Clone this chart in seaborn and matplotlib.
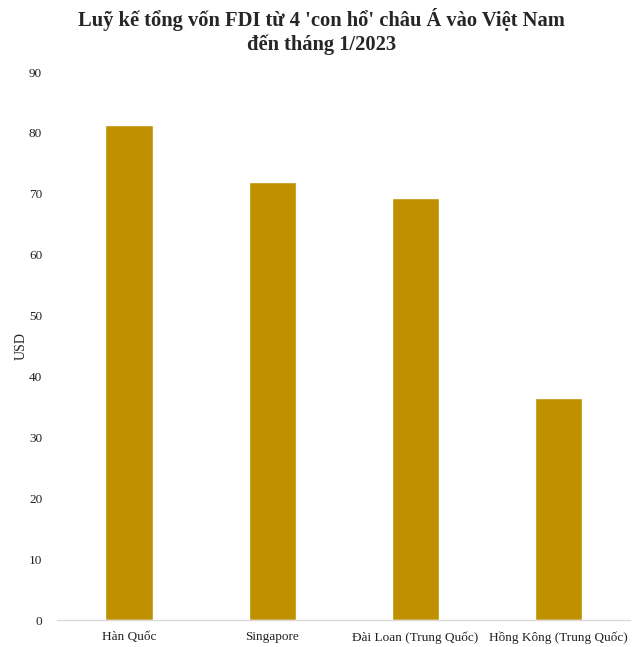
import matplotlib
matplotlib.use("Agg")
import matplotlib.pyplot as plt
import seaborn as sns
import pandas as pd

categories = ["Hàn Quốc", "Singapore", "Đài Loan (Trung Quốc)", "Hồng Kông (Trung Quốc)"]
values = [81.3, 71.9, 69.3, 36.5]
yticks = [0, 10, 20, 30, 40, 50, 60, 70, 80, 90]
title = "Luỹ kế tổng vốn FDI từ 4 'con hổ' châu Á vào Việt Nam\nđến tháng 1/2023"

sns.set_theme(style="white")
plt.rcParams['font.family'] = ['Liberation Serif', 'DejaVu Serif']

df = pd.DataFrame({"country": categories, "usd": values})

fig = plt.figure(figsize=(6.43, 6.47), dpi=100)
ax = fig.add_axes([0.0894, 0.0417, 0.8906, 0.847])
sns.barplot(data=df, x="country", y="usd", color="#BF9000", saturation=1,
            width=0.33, ax=ax)
ax.set_ylim(0, 90)
ax.set_yticks(yticks)
ax.set_yticklabels([str(t) for t in yticks], fontsize=9.5, color="#222222")
ax.tick_params(axis='x', labelsize=9.5, colors="#222222", length=0, pad=8)
ax.tick_params(axis='y', length=0, pad=11)
ax.set_xlabel("")
ax.set_ylabel("USD", fontsize=10, color="#222222")
ax.yaxis.set_label_coords(-0.052, 0.5)
for s in ["top", "right", "left"]:
    ax.spines[s].set_visible(False)
ax.spines["bottom"].set_color("#D9D9D9")
ax.spines["bottom"].set_linewidth(1)
ax.grid(False)
fig.suptitle(title, fontsize=14.8, fontweight="bold", y=0.988, x=0.5, linespacing=1.25)
fig.savefig("out.png", dpi=100, facecolor="white")
